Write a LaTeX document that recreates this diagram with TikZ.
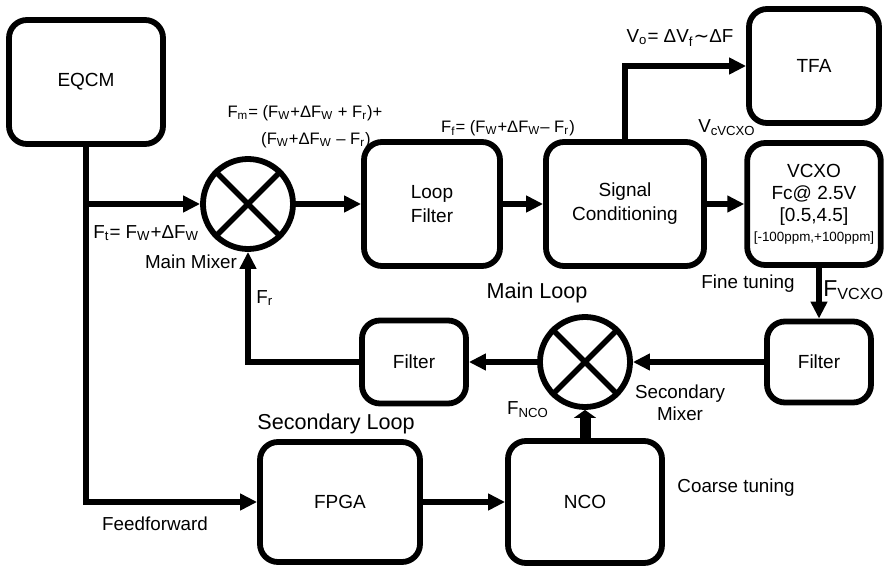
\documentclass[tikz,border=0pt]{standalone}
\usepackage{fontspec}
\setmainfont{Liberation Sans}
\newfontfamily\tildefont{DejaVu Sans}
\usepackage{tikz}
\usetikzlibrary{arrows.meta}
\newcommand{\sbs}[1]{\textsubscript{#1}}

\begin{document}
\begin{tikzpicture}[x=0.5pt,y=-0.5pt,
  blk/.style={draw=black,line width=2.9pt,rounded corners=9pt,align=center,
    font=\fontsize{9.5}{12}\selectfont},
  mixer/.style={draw=black,circle,line width=2.9pt,minimum size=45pt,inner sep=0pt},
  conn/.style={line width=2.7pt,-{Triangle[length=8.5pt,width=8pt]}},
  thickconn/.style={line width=5.5pt,-{Triangle[length=4pt,width=11pt]}},
  lbl/.style={inner sep=0pt,font=\fontsize{9.4}{11}\selectfont},
  eqn/.style={inner sep=0pt,font=\fontsize{8.3}{10}\selectfont},
  looplbl/.style={inner sep=0pt,font=\fontsize{10.8}{13}\selectfont}]

\useasboundingbox (0,0) rectangle (884,567);

% ---------- top row ----------
\node[blk,minimum width=77pt,minimum height=62pt] (eqcm) at (86,82) {EQCM};
\node[mixer] (mixA) at (248,204) {};
\draw[line width=2.7pt] (mixA.north west) -- (mixA.south east);
\draw[line width=2.7pt] (mixA.north east) -- (mixA.south west);
\node[blk,minimum width=68pt,minimum height=62pt] (lf) at (432,204) {Loop\\Filter};
\node[blk,minimum width=79pt,minimum height=62pt] (sc) at (625,204) {Signal\\Conditioning};
\node[blk,minimum width=65pt,minimum height=57pt] (tfa) at (814,66) {TFA};
\node[blk,minimum width=65pt,minimum height=61pt,font=\fontsize{9.5}{11}\selectfont] (vcxo) at (814,204)
  {VCXO\\Fc@ 2.5V\\{}[0.5,4.5]\\[-1pt]{\fontsize{6.7}{8}\selectfont[-100ppm,+100ppm]}};

% ---------- main loop ----------
\node[blk,minimum width=52pt,minimum height=40.5pt] (filtR) at (819,362) {Filter};
\node[mixer] (mixB) at (585,362) {};
\draw[line width=2.7pt] (mixB.north west) -- (mixB.south east);
\draw[line width=2.7pt] (mixB.north east) -- (mixB.south west);
\node[blk,minimum width=52pt,minimum height=41.5pt] (filtL) at (414,362) {Filter};

% ---------- secondary loop ----------
\node[blk,minimum width=80pt,minimum height=60pt] (fpga) at (340,502) {FPGA};
\node[blk,minimum width=77pt,minimum height=61pt] (nco) at (585,502) {NCO};

% ---------- connectors ----------
\coordinate (tap) at (eqcm.south |- mixA.west);
\draw[conn] (tap) -- (mixA.west);
\draw[conn] (eqcm.south) |- (fpga.west);
\draw[conn] (mixA.east) -- (lf.west);
\draw[conn] (lf.east) -- (sc.west);
\draw[conn] (sc.east) -- (vcxo.west);
\draw[conn] (sc.north) |- (tfa.west);
\draw[conn] (filtR.north |- vcxo.south) -- (filtR.north);
\draw[conn] (filtR.west) -- (mixB.east);
\draw[conn] (mixB.west) -- (filtL.east);
\draw[conn] (filtL.west) -| (mixA.south);
\draw[conn] (fpga.east) -- (nco.west);
\draw[thickconn] (nco.north) -- (mixB.south);

% ---------- labels ----------
\node[eqn] (fmA) at (305,113) {F\sbs{m}= (F\sbs{W}+ΔF\sbs{W} + F\sbs{r})+};
\node[eqn] (fmB) at (316,140) {(F\sbs{W}+ΔF\sbs{W} – F\sbs{r})};
\node[eqn] (ff) at (508,128) {F\sbs{f}= (F\sbs{W}+ΔF\sbs{W}– F\sbs{r})};
\node[lbl,anchor=west] (ft) at (93,233) {F\sbs{t}= F\sbs{W}+ΔF\sbs{W}};
\node[lbl] (mmix) at (191,262) {Main Mixer};
\node[lbl,anchor=west] (fr) at (256,298) {F\sbs{r}};
\node[lbl] (vo) at (680,38) {V\sbs{o}= ΔV\sbs{f}{\tildefont ∼}ΔF};
\node[lbl] (vc) at (727,128) {V\sbs{cVCXO}};
\node[lbl] (fine) at (748,284) {Fine tuning};
\node[inner sep=0pt,anchor=west,font=\fontsize{11.5}{13}\selectfont] (fv) at (823,290) {F\sbs{VCXO}};
\node[looplbl] (mloop) at (537,293) {Main Loop};
\node[lbl,align=center] (smix) at (680,403) {Secondary\\Mixer};
\node[lbl] (fnco) at (528,410) {F\sbs{NCO}};
\node[looplbl] (sloop) at (336,424) {Secondary Loop};
\node[lbl] (coarse) at (736,488) {Coarse tuning};
\node[lbl] (ffwd) at (155,524) {Feedforward};

\end{tikzpicture}
\end{document}
